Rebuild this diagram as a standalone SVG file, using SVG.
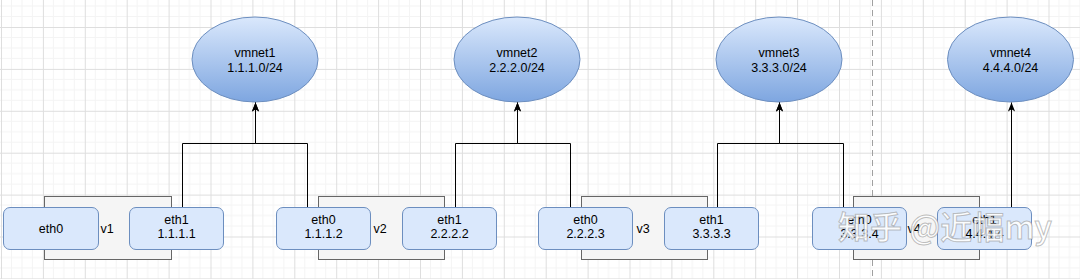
<svg xmlns="http://www.w3.org/2000/svg" width="1080" height="279" viewBox="0 0 1080 279">
  <defs>
    <pattern id="grid" patternUnits="userSpaceOnUse" x="1" y="27" width="41.9" height="41.9">
      <path d="M10.475 0V41.9M20.95 0V41.9M31.425 0V41.9M0 10.475H41.9M0 20.95H41.9M0 31.425H41.9" stroke="#f4f4f4" stroke-width="1" fill="none"/>
      <path d="M0.5 0V41.9M0 0.5H41.9" stroke="#dedede" stroke-width="1" fill="none"/>
    </pattern>
    <linearGradient id="netfill" x1="0" y1="0" x2="0" y2="1">
      <stop offset="0" stop-color="#dae8fc"/>
      <stop offset="1" stop-color="#7ea6e0"/>
    </linearGradient>
    <marker id="arrow" viewBox="0 0 10 8" refX="10" refY="4" markerWidth="9" markerHeight="8" markerUnits="userSpaceOnUse" orient="auto">
      <path d="M0,0 L10,4 L0,8 L2.5,4 z" fill="#000"/>
    </marker>
  </defs>
  <style>
    text { font-family: "Liberation Sans", Arial, sans-serif; font-size: 12.5px; fill: #000; }
    .net { fill: url(#netfill); stroke: #6c8ebf; stroke-width: 1; }
    .vm { fill: #f5f5f5; stroke: #666666; stroke-width: 1; }
    .eth { fill: #dae8fc; stroke: #6c8ebf; stroke-width: 1; }
    .edge { fill: none; stroke: #000; stroke-width: 1; }
    .wm { font-family: "Noto Sans CJK SC", "Noto Sans", sans-serif; font-size: 32px; font-weight: 500; fill: #ffffff; fill-opacity: 0.9; stroke: #8a8a8a; stroke-opacity: 0.55; stroke-width: 1; }
  </style>

  <rect x="0" y="0" width="1080" height="279" fill="#ffffff"/>
  <rect x="0" y="0" width="1080" height="279" fill="url(#grid)"/>
  <line x1="872.5" y1="0" x2="872.5" y2="279" stroke="#a0a0a0" stroke-width="1" stroke-dasharray="6 4"/>

  <g id="vmnet1">
    <ellipse class="net" cx="255" cy="59.5" rx="63" ry="42.5"/>
    <text x="255" y="56.5" text-anchor="middle">vmnet1</text>
    <text x="255" y="71.5" text-anchor="middle">1.1.1.0/24</text>
  </g>
  <g id="vmnet2">
    <ellipse class="net" cx="517" cy="59.5" rx="63" ry="42.5"/>
    <text x="517" y="56.5" text-anchor="middle">vmnet2</text>
    <text x="517" y="71.5" text-anchor="middle">2.2.2.0/24</text>
  </g>
  <g id="vmnet3">
    <ellipse class="net" cx="779" cy="59.5" rx="63" ry="42.5"/>
    <text x="779" y="56.5" text-anchor="middle">vmnet3</text>
    <text x="779" y="71.5" text-anchor="middle">3.3.3.0/24</text>
  </g>
  <g id="vmnet4">
    <ellipse class="net" cx="1010.5" cy="59.5" rx="63" ry="42.5"/>
    <text x="1010.5" y="56.5" text-anchor="middle">vmnet4</text>
    <text x="1010.5" y="71.5" text-anchor="middle">4.4.4.0/24</text>
  </g>

  <g id="connectors">
    <path class="edge" d="M182.5 207V143.5H255.5V102.5" marker-end="url(#arrow)"/>
    <path class="edge" d="M307.5 207V143.5H255.5V102.5" marker-end="url(#arrow)"/>
    <path class="edge" d="M455.5 207V143.5H517.5V102.5" marker-end="url(#arrow)"/>
    <path class="edge" d="M570.5 207V143.5H517.5V102.5" marker-end="url(#arrow)"/>
    <path class="edge" d="M717.5 207V143.5H779.5V102.5" marker-end="url(#arrow)"/>
    <path class="edge" d="M843.5 207V143.5H779.5V102.5" marker-end="url(#arrow)"/>
    <path class="edge" d="M1011.5 207V102.5" marker-end="url(#arrow)"/>
  </g>

  <g id="v1">
    <rect class="vm" x="44.5" y="196.5" width="127" height="63"/>
    <text x="107" y="232.5" text-anchor="middle">v1</text>
  </g>
  <g id="v1-eth0">
    <rect class="eth" x="3.5" y="207.5" width="95" height="42" rx="6.5"/>
    <text x="51" y="232.5" text-anchor="middle">eth0</text>
  </g>
  <g id="v1-eth1">
    <rect class="eth" x="129.5" y="207.5" width="94" height="42" rx="6.5"/>
    <text x="176.5" y="223.5" text-anchor="middle">eth1</text>
    <text x="176.5" y="238" text-anchor="middle">1.1.1.1</text>
  </g>

  <g id="v2">
    <rect class="vm" x="318.5" y="196.5" width="126" height="63"/>
    <text x="380" y="232.5" text-anchor="middle">v2</text>
  </g>
  <g id="v2-eth0">
    <rect class="eth" x="276.5" y="207.5" width="94" height="42" rx="6.5"/>
    <text x="323.5" y="223.5" text-anchor="middle">eth0</text>
    <text x="323.5" y="238" text-anchor="middle">1.1.1.2</text>
  </g>
  <g id="v2-eth1">
    <rect class="eth" x="402.5" y="207.5" width="94" height="42" rx="6.5"/>
    <text x="449.5" y="223.5" text-anchor="middle">eth1</text>
    <text x="449.5" y="238" text-anchor="middle">2.2.2.2</text>
  </g>

  <g id="v3">
    <rect class="vm" x="581.5" y="196.5" width="126" height="63"/>
    <text x="643" y="232.5" text-anchor="middle">v3</text>
  </g>
  <g id="v3-eth0">
    <rect class="eth" x="538.5" y="207.5" width="94" height="42" rx="6.5"/>
    <text x="585.5" y="223.5" text-anchor="middle">eth0</text>
    <text x="585.5" y="238" text-anchor="middle">2.2.2.3</text>
  </g>
  <g id="v3-eth1">
    <rect class="eth" x="664.5" y="207.5" width="94" height="42" rx="6.5"/>
    <text x="711.5" y="223.5" text-anchor="middle">eth1</text>
    <text x="711.5" y="238" text-anchor="middle">3.3.3.3</text>
  </g>

  <g id="v4">
    <rect class="vm" x="853.5" y="196.5" width="126" height="63"/>
    <text x="914" y="232.5" text-anchor="middle">v4</text>
  </g>
  <g id="v4-eth0">
    <rect class="eth" x="812.5" y="207.5" width="94" height="42" rx="6.5"/>
    <text x="859.5" y="223.5" text-anchor="middle">eth0</text>
    <text x="859.5" y="238" text-anchor="middle">3.3.3.4</text>
  </g>
  <g id="v4-eth1">
    <rect class="eth" x="937.5" y="207.5" width="94" height="42" rx="6.5"/>
    <text x="984.5" y="223.5" text-anchor="middle">eth1</text>
    <text x="984.5" y="238" text-anchor="middle">4.4.4.4</text>
  </g>

  <text class="wm" x="838" y="239" textLength="214" lengthAdjust="spacingAndGlyphs">知乎 @近幅my</text>
</svg>
